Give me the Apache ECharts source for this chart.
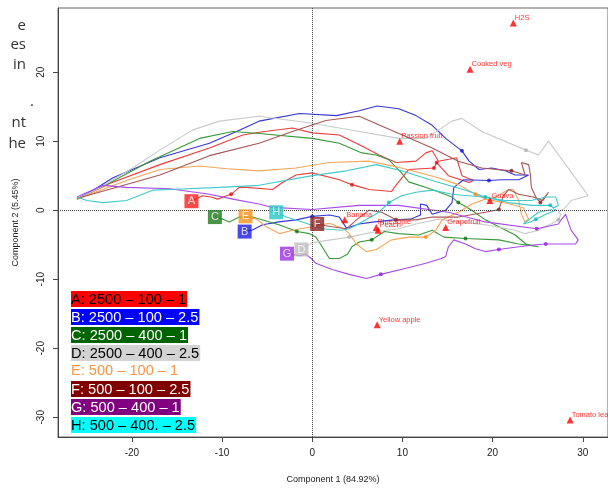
<!DOCTYPE html>
<html><head><meta charset="utf-8">
<script src="https://cdn.jsdelivr.net/npm/echarts@6/dist/echarts.min.js"></script>
<style>html,body{margin:0;padding:0;background:#fff}#c{width:608px;height:489px}</style>
</head><body><div id="c"></div>
<script>
const xTicks = [-20, -10, 0, 10, 20, 30];
const yTicks = [-30, -20, -10, 0, 10, 20];

const seriesA = [[-26.1,1.6],[-22.4,3.9],[-16.9,6.6],[-11.4,9.0],[-7.7,10.9],[-5.9,11.3],[-2.2,11.9],[0,11.2],[3.0,10.9],[5.5,9.3],[7.4,8.0],[9.3,6.9],[11.5,7.1],[12.6,8.3],[13.3,8.6],[14.0,7.1],[16.0,7.6],[16.6,5.0],[17.9,4.3],[17.4,4.0],[15.1,5.0],[13.8,6.9],[13.5,6.1],[10.7,5.9],[9.1,3.3],[8.8,2.7],[6.3,3.0],[4.4,3.7],[3.0,4.4],[0,5.4],[-1.8,5.1],[-3.3,4.0],[-4.4,3.0],[-7.3,3.3],[-8.1,3.3],[-9.0,2.3],[-9.5,2.1],[-10.5,1.6],[-11.2,1.9],[-12.2,2.1],[-13.4,1.3]];
const seriesB = [[-26.1,1.6],[-24.3,2.9],[-22.1,4.7],[-16.9,7.6],[-11.4,9.7],[-8.4,11.4],[-5.9,12.9],[-1.4,14.0],[2.7,13.7],[5.2,14.4],[7.2,15.1],[9.6,14.7],[11.5,13.7],[13.3,12.3],[14.8,10.4],[16.6,8.6],[17.4,7.1],[18.5,5.9],[19.9,6.1],[21.4,5.7],[22.5,5.1],[24.0,5.1],[22.9,4.4],[21.0,4.4],[19.6,4.3],[16.8,4.4],[15.7,3.3],[15.5,1.1],[14.8,0],[13.3,-0.6],[12.7,0.7],[12.0,0.9],[12.0,-0.7],[10.9,-1.3],[9.1,-1.4],[6.9,-1.7],[5.2,-2.0],[3.8,-2.6],[3.0,-1.0],[1.9,-0.7],[0,-0.9],[-1.8,-1.4],[-3.7,-1.7],[-5.5,-2.1],[-6.7,-2.9],[-7.5,-3.1]];
const seriesC = [[-26.1,1.6],[-22.4,4.0],[-18.0,7.1],[-12.5,10.4],[-8.8,11.4],[-5.9,11.1],[0,10.4],[3.0,9.7],[5.5,8.3],[7.1,8.0],[8.5,7.3],[9.9,5.4],[10.7,4.1],[13.3,3.0],[15.5,1.9],[16.2,1.1],[17.7,0],[19.2,-1.4],[20.7,-2.4],[22.5,-3.6],[23.7,-4.9],[25.1,-5.3],[22.9,-4.9],[20.7,-4.3],[17.0,-4.1],[14.6,-3.9],[13.3,-2.9],[11.8,-3.6],[9.6,-3.4],[8.0,-3.1],[6.6,-4.3],[5.2,-4.6],[4.4,-5.3],[3.9,-6.4],[3.0,-7.0],[1.9,-7.0],[1.1,-5.3],[0.4,-3.9],[-0.3,-3.4],[-1.7,-3.1],[-3.7,-2.1],[-6.6,-1.0],[-8.1,-1.0],[-9.2,-1.7],[-9.9,-1.3],[-10.8,-1.0]];
const seriesD = [[-26.1,1.6],[-23.5,3.3],[-20.2,5.9],[-16.9,8.7],[-13.3,11.6],[-10.3,12.9],[-5.9,13.6],[0,12.6],[5.2,11.4],[9.6,10.4],[12.6,10.4],[15.5,12.9],[16.6,13.3],[18.8,11.4],[23.7,8.7],[25.1,8.0],[26.2,10.0],[28.4,6.1],[30.6,2.1],[30.1,1.9],[28.7,1.4],[28.1,0.4],[27.3,-0.3],[27.6,-0.6],[27.3,-1.4],[26.5,-2.0],[25.1,-2.9],[23.6,-3.4],[22.5,-2.9],[19.2,-2.1],[16.2,-1.7],[14.0,-1.3],[11.5,-2.0],[9.6,-2.7],[7.1,-3.1],[4.1,-3.9],[0,-4.7],[-1.2,-5.7]];
const seriesE = [[-26.1,1.6],[-20.6,4.3],[-16.9,5.9],[-12.5,6.4],[-9.5,6.0],[-5.9,5.7],[-1.8,6.1],[1.9,6.9],[6.3,7.1],[8.2,6.6],[9.9,6.1],[14.0,4.7],[16.2,3.7],[18.1,2.3],[19.6,1.4],[21.8,3.0],[22.3,3.0],[22.9,1.4],[23.2,-0.6],[23.6,-1.7],[24.0,-1.3],[23.4,0.4],[21.2,1.1],[19.2,1.6],[17.7,0.9],[16.2,-0.3],[14.4,-1.4],[13.7,-2.9],[12.6,-3.9],[10.7,-3.9],[8.8,-4.3],[7.1,-5.7],[6.0,-6.0],[4.9,-4.9],[4.1,-3.4],[3.5,-2.7],[1.9,-1.9],[0,-2.4],[-2.2,-2.9],[-3.6,-3.4],[-5.1,-2.4],[-6.2,-1.3],[-7.4,-0.9]];
const seriesF = [[-26.1,1.7],[-16.9,5.1],[-11.4,7.9],[-5.9,9.7],[-2.2,11.4],[1.5,13.0],[5.2,13.6],[9.6,11.1],[13.3,9.0],[16.2,7.1],[18.8,6.1],[22.1,5.7],[23.6,5.1],[23.2,6.9],[24.0,6.6],[24.2,5.1],[24.3,3.3],[24.8,1.9],[25.3,1.1],[26.2,2.6],[25.6,1.4],[24.5,1.9],[22.9,2.3],[21.8,3.0],[21.2,2.1],[20.7,0.1],[19.2,-0.3],[16.2,-1.0],[13.3,-1.0],[11.5,-1.4],[9.3,-1.4],[7.7,-0.3],[6.3,0],[4.9,-1.4],[3.8,-2.7],[2.2,-2.4],[0.8,-2.1],[0.55,-2.0]];
const seriesG = [[-26.1,1.9],[-23.2,3.6],[-20.6,3.3],[-15.8,3.1],[-11.4,2.3],[-8.8,1.6],[-5.9,0.9],[-4.4,0.4],[0,0.1],[5.2,0.7],[9.6,0.7],[15.1,-0.3],[19.2,-1.7],[24.9,-2.7],[27.3,-2.0],[27.6,-1.4],[28.1,-0.6],[28.7,-2.9],[29.5,-4.3],[29.2,-4.9],[25.9,-4.9],[24.8,-5.0],[22.9,-5.3],[20.7,-5.7],[19.2,-6.0],[18.1,-5.6],[17.0,-4.9],[15.7,-4.3],[15.1,-5.3],[14.8,-6.7],[14.3,-7.0],[12.6,-7.7],[10.4,-8.4],[7.6,-9.3],[6.0,-9.9],[4.1,-9.3],[2.2,-8.6],[0.4,-7.7],[-0.1,-7.0],[-0.7,-6.4],[-1.4,-6.6],[-2.8,-6.3]];
const seriesH = [[-26.1,1.9],[-25.0,1.4],[-23.2,1.1],[-20.6,1.4],[-17.7,2.9],[-15.8,3.0],[-10.3,3.3],[-5.9,3.6],[0,5.0],[3.8,5.7],[7.1,6.6],[9.9,5.7],[13.3,4.3],[17.0,2.9],[19.2,1.9],[21.4,1.4],[24.3,1.4],[25.9,1.9],[27.0,1.9],[27.3,0.7],[26.5,0.1],[25.1,-0.3],[23.4,-2.0],[24.2,-1.7],[24.8,-1.3],[25.9,-0.6],[27.0,0],[26.4,0.7],[24.3,0.7],[21.8,1.1],[19.0,1.9],[17.3,2.1],[15.5,2.3],[13.3,2.9],[11.5,2.6],[9.9,2.1],[8.5,1.1],[7.4,-0.3],[5.5,-1.7],[4.1,-2.7],[3.3,-2.9],[1.1,-2.7],[-1.1,-1.7],[-2.9,-1.0],[-4.0,-0.3]];

const dotsA = [[-9.0,2.3],[4.4,3.7],[13.5,6.1],[13.8,6.9]];
const dotsB = [[16.6,8.6],[19.6,4.3],[0,-0.9]];
const dotsC = [[16.2,1.1],[17.0,-4.1],[6.6,-4.3],[-1.7,-3.1]];
const dotsD = [[23.7,8.7],[27.3,-1.4],[4.1,-3.9]];
const dotsE = [[18.1,2.3],[12.6,-3.9]];
const dotsF = [[22.1,5.7],[25.3,1.1],[20.7,0.1],[9.3,-1.4]];
const dotsG = [[24.9,-2.7],[25.9,-4.9],[20.7,-5.7],[7.6,-9.3]];
const dotsH = [[19.2,1.9],[8.5,1.1],[26.4,0.7],[24.8,-1.3]];

const groupLetters = ['A','B','C','D','E','F','G','H'];
const groupLabelX = [-13.4,-7.5,-10.8,-1.2,-7.4,0.55,-2.8,-4.0];
const groupLabelY = [1.3,-3.1,-1.0,-5.7,-0.9,-2.0,-6.3,-0.3];
const legendTexts = ['A: 2500 \u2013 100 \u2013 1','B: 2500 \u2013 100 \u2013 2.5','C: 2500 \u2013 400 \u2013 1','D: 2500 \u2013 400 \u2013 2.5','E: 500 \u2013 100 \u2013 1','F: 500 \u2013 100 \u2013 2.5','G: 500 \u2013 400 \u2013 1','H: 500 \u2013 400. \u2013 2.5'];

const odorNames = ['H2S','Cooked veg','Passion fruit','Guava','Banana','Pineapple','Peach','Grapefruit','Yellow apple','Tomato leaf'];
const odorX = [22.3,17.5,9.7,19.7,3.6,7.1,7.3,14.8,7.2,28.6];
const odorY = [27.1,20.4,10.0,1.4,-1.4,-2.5,-2.9,-2.5,-16.6,-30.4];

const marginTexts = ['e','es','in','.','nt','he'];

const lineSets = [seriesA,seriesB,seriesC,seriesD,seriesE,seriesF,seriesG,seriesH];
const dotSets = [dotsA,dotsB,dotsC,dotsD,dotsE,dotsF,dotsG,dotsH];
const lineColors = ['#EE3B3B','#3535DD','#3A9A3A','#CACACA','#F4A65A','#A65656','#A64BE8','#40CACA'];
const dotColors = ['#E01010','#1515D0','#127012','#B0B0B0','#F08A20','#8B2020','#8E20D8','#10B8B8'];
const boxColors = ['#FF1A1A','#1A1AE6','#1E7A1E','#BDBDBD','#F7941E','#8B2323','#9B30E6','#26C6C6'];
const legendBg = ['#FF0000','#0000FF','#006400','#D3D3D3',null,'#800000','#800080','#00FFFF'];
const legendFg = ['#000','#fff','#fff','#000','#F79646','#fff','#fff','#000'];

const chart = echarts.init(document.getElementById('c'), null, {renderer:'canvas'});
const series = [];
lineSets.forEach((d, i) => {
  series.push({type:'line', data:d, symbol:'none', smooth:false, z:2,
    lineStyle:{color:lineColors[i], width:1.1}, silent:true, animation:false});
});
dotSets.forEach((d, i) => {
  series.push({type:'scatter', data:d, symbol:'circle', symbolSize:4, z:3,
    itemStyle:{color:dotColors[i]}, silent:true, animation:false});
});
series.push({type:'scatter', z:4, symbol:'triangle', symbolSize:7, silent:true, animation:false,
  itemStyle:{color:'#FF0000'},
  data: odorNames.map((n,i)=>({value:[odorX[i],odorY[i]], name:n})),
  label:{show:true, position:'right', distance:0, offset:[-2,-5], formatter:p=>p.name,
    color:'#FF0000', fontSize:7.5, fontFamily:'Liberation Sans'}
});
series.push({type:'scatter', z:6, symbol:'rect', symbolSize:14, silent:true, animation:false,
  data: groupLetters.map((l,i)=>({value:[groupLabelX[i],groupLabelY[i]], name:l, itemStyle:{color:boxColors[i]}})),
  label:{show:true, position:'inside', formatter:p=>p.name, color:'#fff', fontSize:11, fontFamily:'Liberation Sans'}
});
series.push({type:'line', data:[], silent:true, animation:false,
  markLine:{symbol:['none','none'], silent:true, animation:false, label:{show:false},
    lineStyle:{type:'dotted', color:'#444', width:1},
    data:[{xAxis:0},{yAxis:0}]}
});

const graphics = [];
legendTexts.forEach((t,i)=>{
  const st = {text:t, fill:legendFg[i], font:'14.6px "Liberation Sans"', padding:[1,1,0,0]};
  if (legendBg[i]) st.backgroundColor = legendBg[i];
  graphics.push({type:'text', left:71, top:291+18*i, z:10, style:st});
});
const marginY = [33,52,72,109,130,151];
marginTexts.forEach((t,i)=>{
  graphics.push({type:'text', x: t==='.' ? 30 : 26, y:marginY[i], z:10,
    style:{text:t, fill:'#333', font:'15px "Open Sans"', textAlign: t==='.' ? 'left' : 'right', textVerticalAlign:'bottom'}});
});

chart.setOption({
  animation:false,
  backgroundColor:'#fff',
  grid:{left:58, top:8, right:-2, bottom:46, show:true, borderColor:'#666', borderWidth:1, backgroundColor:'transparent'},
  xAxis:{type:'value', min:-28.2, max:32.8,
    name:'Component 1 (84.92%)', nameLocation:'middle', nameGap:38,
    nameTextStyle:{fontSize:9, color:'#222', fontFamily:'Liberation Sans'},
    axisLine:{show:true, onZero:false, lineStyle:{color:'#444', width:1}},
    axisTick:{show:true, length:5, customValues:xTicks, lineStyle:{color:'#444'}},
    axisLabel:{customValues:xTicks, fontSize:10, color:'#222', margin:11, fontFamily:'Liberation Sans'},
    splitLine:{show:false}},
  yAxis:{type:'value', min:-32.86, max:29.29,
    name:'Component 2 (5.45%)', nameLocation:'middle', nameGap:38,
    nameTextStyle:{fontSize:9, color:'#222', fontFamily:'Liberation Sans'},
    axisLine:{show:true, onZero:false, lineStyle:{color:'#444', width:1}},
    axisTick:{show:true, length:5, customValues:yTicks, lineStyle:{color:'#444'}},
    axisLabel:{customValues:yTicks, rotate:90, fontSize:10, color:'#222', margin:12, fontFamily:'Liberation Sans'},
    splitLine:{show:false}},
  series: series,
  graphic: graphics
});
</script></body></html>
